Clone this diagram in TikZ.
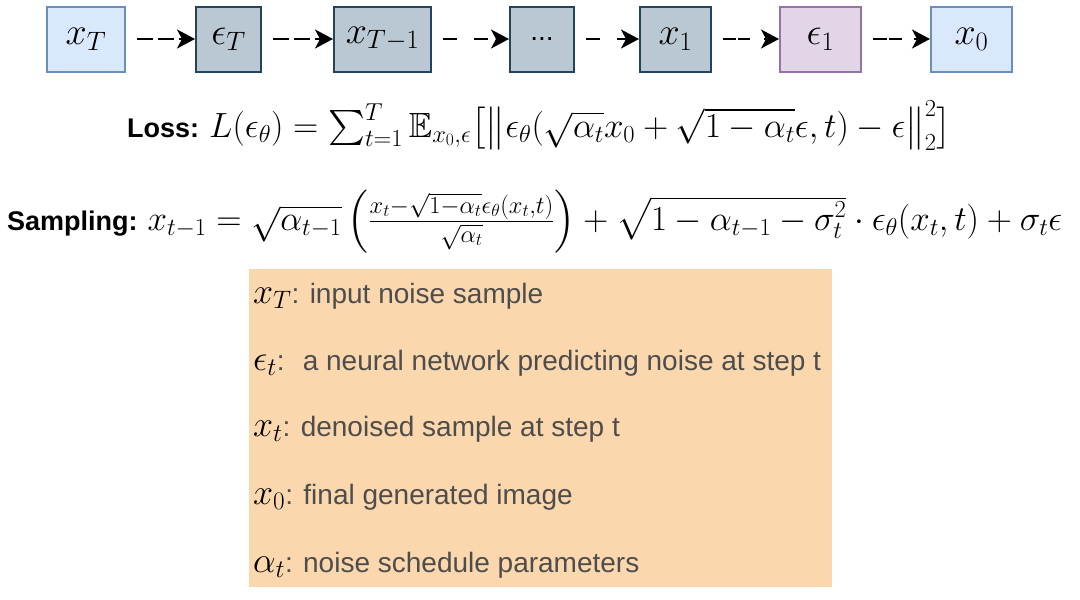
\RequirePackage{fix-cm}
\documentclass[tikz,border=0pt]{standalone}
\usepackage{amsmath}
\usepackage{amssymb}
\usepackage[no-math]{fontspec}
\setmainfont{Liberation Sans}
\usetikzlibrary{arrows.meta,positioning}
\definecolor{blue1}{HTML}{DAE8FC}
\definecolor{blue2}{HTML}{6C8EBF}
\definecolor{gray1}{HTML}{BAC8D3}
\definecolor{gray2}{HTML}{23445D}
\definecolor{purple1}{HTML}{E1D5E7}
\definecolor{purple2}{HTML}{9673A6}
\definecolor{orange1}{HTML}{FAD7AC}
\definecolor{text1}{HTML}{4D4D4D}
\newcommand{\legmath}[1]{{\color{black}\fontsize{36}{40}\selectfont$#1$}}

\begin{document}
\begin{tikzpicture}[x=1pt, y=-1pt,
    box/.style={draw, line width=2pt, minimum height=65pt, inner sep=0pt, font=\fontsize{38}{44}\selectfont},
    flow/.style={line width=2pt, shorten <=11pt, -{Stealth[length=18pt, width=19pt, inset=5pt]}},
    formula/.style={anchor=base west, inner sep=0pt, font=\fontsize{35}{40}\selectfont},
    item/.style={anchor=base west, inner sep=0pt, text=text1, font=\fontsize{28}{32}\selectfont}]
    \useasboundingbox (0,0) rectangle (1080,600);

    \node[box, fill=blue1, draw=blue2, minimum width=78pt] (xT) at (86,39) {$x_T$};
    \node[box, fill=gray1, draw=gray2, minimum width=65pt] (epsT) at (228.5,39) {$\epsilon_T$};
    \node[box, fill=gray1, draw=gray2, minimum width=97pt] (xTm) at (382.5,39) {$x_{T-1}$};
    \node[box, fill=gray1, draw=gray2, minimum width=64pt] (dots) at (542,39) {\fontsize{28}{32}\selectfont ...};
    \node[box, fill=gray1, draw=gray2, minimum width=71pt] (x1) at (675.5,39) {$x_1$};
    \node[box, fill=purple1, draw=purple2, minimum width=81pt] (eps1) at (820.5,39) {$\epsilon_1$};
    \node[box, fill=blue1, draw=blue2, minimum width=81pt] (x0) at (971.5,39) {$x_0$};

    \draw[flow, dash pattern=on 16pt off 5pt] (xT) -- (epsT);
    \draw[flow, dash pattern=on 16pt off 5pt] (epsT) -- (xTm);
    \draw[flow, dash pattern=on 14pt off 17pt] (xTm) -- (dots);
    \draw[flow, dash pattern=on 14pt off 17pt] (dots) -- (x1);
    \draw[flow, dash pattern=on 13pt off 2pt on 12pt off 14pt] (x1) -- (eps1);
    \draw[flow, dash pattern=on 14pt off 2pt on 13pt off 12pt] (eps1) -- (x0);

    \node[formula] (loss) at (127,137)
        {{\fontsize{27}{30}\selectfont\bfseries Loss: }$L(\epsilon_\theta) = \sum_{t=1}^{T} \mathbb{E}_{x_0,\epsilon}\bigl[\bigl\|\epsilon_\theta(\sqrt{\alpha_t}x_0+\sqrt{1-\alpha_t}\epsilon,t)-\epsilon\bigr\|_2^2\bigr]$};
    \node[formula] (sampling) at (7,230)
        {{\fontsize{27}{30}\selectfont\bfseries Sampling: }$x_{t-1} = \sqrt{\alpha_{t-1}}\left(\frac{x_t-\sqrt{1-\alpha_t}\epsilon_\theta(x_t,t)}{\sqrt{\alpha_t}}\right) + \sqrt{1-\alpha_{t-1}-\sigma_t^2}\cdot\epsilon_\theta(x_t,t)+\sigma_t\epsilon$};

    \node[fill=orange1, minimum width=583pt, minimum height=318pt, inner sep=0pt] (legend) at (540.5,428) {};
    \node[item] (legxT) at (253,303) {\legmath{x_T}: input noise sample};
    \node[item] (legeps) at (253,370) {\legmath{\epsilon_t}:~ a neural network predicting noise at step t};
    \node[item] (legxt) at (253,436) {\legmath{x_t}: denoised sample at step t};
    \node[item] (legx0) at (253,504) {\legmath{x_0}: final generated image};
    \node[item] (legalpha) at (253,572) {\legmath{\alpha_t}: noise schedule parameters};
\end{tikzpicture}
\end{document}
